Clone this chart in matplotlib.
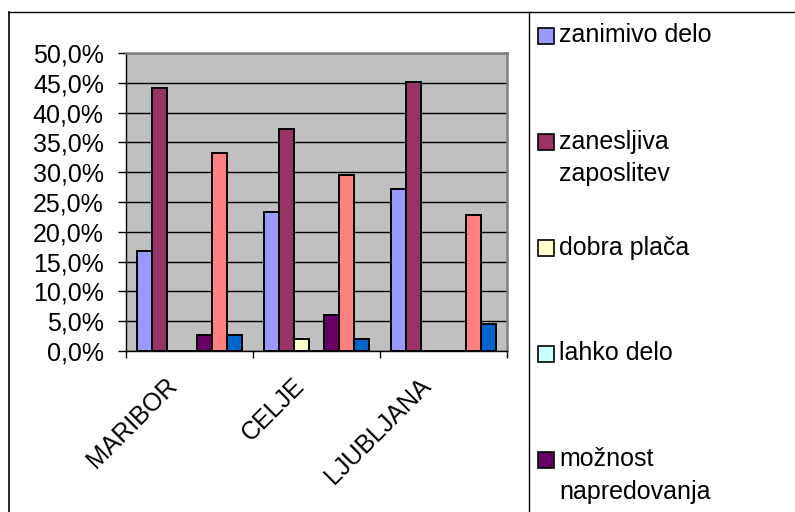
import matplotlib
matplotlib.use("Agg")
import matplotlib.pyplot as plt
import matplotlib.transforms as mtransforms
import numpy as np
from matplotlib.patches import Rectangle
from matplotlib.lines import Line2D
from matplotlib.ticker import MultipleLocator, FuncFormatter, FixedLocator

plt.rcParams['font.family'] = ['Liberation Sans', 'DejaVu Sans']

categories = ["MARIBOR", "CELJE", "LJUBLJANA"]
series_names = ["zanimivo delo", "zanesljiva\nzaposlitev", "dobra plača", "lahko delo",
                "možnost\nnapredovanja", "serija 6", "serija 7"]
legend_shown = [True, True, True, True, True, False, False]
colors = ["#9999FF", "#993366", "#FFFFCC", "#CCFFFF", "#660066", "#FF8080", "#0066CC"]

zanimivo = [16.8, 23.4, 27.1]
zanesljiva = [44.2, 37.2, 45.2]
dobra_placa = [0.0, 2.0, 0.0]
lahko_delo = [0.0, 0.0, 0.0]
moznost = [2.7, 6.0, 0.0]
serija6 = [33.2, 29.5, 22.8]
serija7 = [2.7, 2.0, 4.6]
values = [zanimivo, zanesljiva, dobra_placa, lahko_delo, moznost, serija6, serija7]

W, H = 795, 512
fig = plt.figure(figsize=(W / 100, H / 100), dpi=100)
fig.patch.set_facecolor("white")

def fx(px):
    return px / W

def fy(py):
    return 1 - py / H

ax = fig.add_axes([fx(126), fy(351), fx(507) - fx(126), fy(53) - fy(351)])
ax.set_facecolor("#C0C0C0")

n = len(values)
w = 1 / (n + 1.5)
x = np.arange(len(categories))
for j, (vals, c) in enumerate(zip(values, colors)):
    ax.bar(x + (j - (n - 1) / 2) * w, vals, width=w, color=c, edgecolor="black",
           linewidth=1.4, zorder=3)

ax.set_xlim(-0.5, len(categories) - 0.5)
ax.set_ylim(0, 50)
ax.yaxis.set_major_locator(MultipleLocator(5))
ax.yaxis.set_major_formatter(FuncFormatter(lambda v, p: f"{v:.1f}%".replace(".", ",")))
ax.grid(axis="y", color="black", linewidth=1.0, zorder=1)
ax.set_axisbelow(True)

ax.set_xticks(x)
ax.set_xticklabels(categories, rotation=45, ha="right", va="baseline", rotation_mode="anchor")
ax.xaxis.set_minor_locator(FixedLocator(np.arange(-0.5, len(categories), 1.0)))
ax.tick_params(axis="x", which="major", length=0, pad=26, labelsize=18)
ax.tick_params(axis="x", which="minor", length=5, width=1, direction="out", color="black")
ax.tick_params(axis="y", length=6, width=1, direction="out", pad=10, labelsize=18)
offset = mtransforms.ScaledTranslation(-11 / 100, 0, fig.dpi_scale_trans)
for lab in ax.get_xticklabels():
    lab.set_transform(lab.get_transform() + offset)

for s in ["left", "bottom"]:
    ax.spines[s].set_color("black")
    ax.spines[s].set_linewidth(1.0)
for s in ["top", "right"]:
    ax.spines[s].set_color("#808080")
    ax.spines[s].set_linewidth(1.8)

# chart border and legend box
fig.add_artist(Line2D([fx(8.5), fx(800)], [fy(11.5), fy(11.5)], color="black", lw=1.0))
fig.add_artist(Line2D([fx(8.5), fx(8.5)], [fy(11.5), fy(520)], color="black", lw=1.2))
fig.add_artist(Line2D([fx(529), fx(529)], [fy(11.5), fy(520)], color="black", lw=1.0))

legend_y = [36, 142, 248, 354, 460]
k = 0
for name, c, show in zip(series_names, colors, legend_shown):
    if not show:
        continue
    yc = legend_y[k]
    k += 1
    fig.add_artist(Rectangle((fx(537.5), fy(yc + 8)), fx(16), 16 / H, facecolor=c,
                             edgecolor="black", linewidth=1.2))
    for li, line in enumerate(name.split("\n")):
        fig.text(fx(559), fy(yc + 6.5 + li * 33), line, fontsize=18, ha="left",
                 va="baseline")

fig.savefig("out.png", dpi=100)
